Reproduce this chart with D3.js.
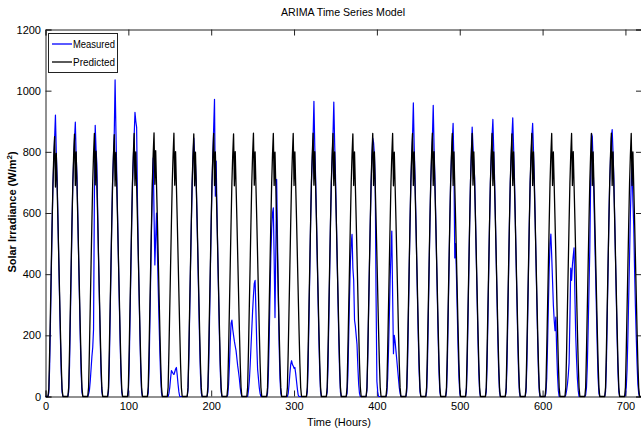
<!DOCTYPE html>
<html><head><meta charset="utf-8">
<script src="https://cdn.jsdelivr.net/npm/d3@7"></script>
<style>
html,body{margin:0;padding:0;background:#fff;}
svg{display:block;}
text{font-family:"Liberation Sans",Arial,sans-serif;fill:#000;}
</style></head>
<body>
<svg id="chart" width="641" height="428"></svg>
<script>
const title = "ARIMA Time Series Model";
const xLabel = "Time (Hours)";
const yLabel = "Solar Irradiance (W/m";
const seriesNames = ["Measured", "Predicted"];
const xTicks = [0, 100, 200, 300, 400, 500, 600, 700];
const yTicks = [0, 200, 400, 600, 800, 1000, 1200];

// Measured hourly irradiance, one row per day (hours 0..23)
const measuredDays = [
[0,0,0,0,12,95,245,405,565,695,770,845,920,800,715,585,450,318,190,80,15,0,0,0],
[0,0,0,0,15,100,250,410,570,700,775,840,897,790,720,590,452,320,188,78,14,0,0,0],
[0,0,0,0,8,20,50,90,130,160,220,650,887,810,760,600,455,322,192,82,16,0,0,0],
[0,0,0,0,15,100,255,415,575,705,785,860,1035,870,730,590,452,318,188,78,14,0,0,0],
[0,0,0,0,14,98,248,408,568,698,778,850,929,900,880,640,470,330,195,82,15,0,0,0],
[0,0,0,0,12,90,240,400,560,690,780,600,430,520,600,480,360,250,150,62,12,0,0,0],
[0,0,0,0,0,10,30,60,85,80,75,72,80,90,95,70,40,15,0,0,0,0,0,0],
[0,0,0,0,20,120,270,420,560,690,780,845,790,760,690,570,440,310,180,75,12,0,0,0],
[0,0,0,0,15,100,250,410,570,700,790,880,972,655,770,600,455,320,190,80,15,0,0,0],
[0,0,0,0,5,40,100,180,240,250,220,200,180,165,150,125,100,80,58,30,10,0,0,0],
[0,0,0,0,0,20,50,100,160,220,280,330,370,380,280,170,90,60,30,10,0,0,0,0],
[0,0,0,0,10,70,190,330,460,550,600,617,450,258,480,710,520,330,170,60,10,0,0,0],
[0,0,0,0,0,10,40,75,105,117,105,100,92,95,75,50,25,5,0,0,0,0,0,0],
[0,0,0,0,15,100,250,410,570,700,780,850,965,820,720,590,450,318,190,80,15,0,0,0],
[0,0,0,0,14,98,248,408,568,698,778,855,963,830,725,588,452,320,190,78,14,0,0,0],
[0,0,0,0,10,70,200,330,440,500,530,420,380,250,230,200,170,100,40,10,0,0,0,0],
[0,0,0,0,20,125,275,425,565,690,785,845,830,790,700,330,50,15,0,0,0,0,0,0],
[0,0,0,0,10,60,150,260,380,470,541,330,140,200,180,150,120,90,60,30,10,0,0,0],
[0,0,0,0,15,100,250,410,570,700,780,850,960,820,720,590,450,318,190,80,15,0,0,0],
[0,0,0,0,14,98,248,408,568,698,778,848,952,815,718,588,450,318,188,78,14,0,0,0],
[0,0,0,0,15,100,250,410,570,700,780,840,893,760,453,500,400,280,160,65,12,0,0,0],
[0,0,0,0,16,104,254,414,574,704,800,881,820,760,715,585,450,318,190,80,15,0,0,0],
[0,0,0,0,15,100,250,410,570,700,780,850,906,810,718,588,452,320,190,80,15,0,0,0],
[0,0,0,0,14,98,248,408,568,698,778,852,911,815,720,590,450,318,188,78,14,0,0,0],
[0,0,0,0,15,100,250,410,570,700,780,845,893,805,715,585,450,318,190,80,15,0,0,0],
[0,0,0,0,10,60,170,300,420,500,531,460,380,300,250,215,260,150,70,20,0,0,0,0],
[0,0,0,0,5,20,40,70,110,260,420,380,430,460,486,330,200,120,60,20,0,0,0,0],
[0,0,0,0,5,30,100,220,350,480,700,860,850,760,650,520,400,280,160,60,10,0,0,0],
[0,0,0,0,15,100,250,410,570,700,780,845,873,800,715,585,450,318,190,80,15,0,0,0],
[0,0,0,0,5,30,90,200,330,460,600,700,760,640,560,420,300,200,110,40,10,0,0,0]
];

// Predicted (ARIMA) hourly irradiance, one row per day (hours 0..23)
const predictedDays = [
[0,0,0,0,25,145,285,430,570,695,790,850,685,795,690,575,455,335,215,105,25,0,0,0],
[0,0,0,0,30,150,290,435,575,700,790,858,690,800,688,580,460,340,220,110,30,0,0,0],
[0,0,0,0,30,152,292,432,572,702,792,860,692,802,690,582,458,338,218,108,28,0,0,0],
[0,0,0,0,28,148,288,428,568,698,788,856,688,798,686,578,456,336,216,106,26,0,0,0],
[0,0,0,0,30,150,290,430,570,700,790,860,690,800,690,580,460,340,220,110,30,0,0,0],
[0,0,0,0,32,152,294,434,574,704,794,862,694,804,692,584,462,342,222,112,32,0,0,0],
[0,0,0,0,30,150,290,430,570,700,790,861,691,801,689,579,459,339,219,109,29,0,0,0],
[0,0,0,0,29,149,289,429,569,699,789,859,689,799,689,579,459,339,219,109,29,0,0,0],
[0,0,0,0,31,151,291,431,571,701,791,860,690,800,690,580,460,340,220,110,30,0,0,0],
[0,0,0,0,30,150,290,430,570,700,790,859,689,801,691,581,461,341,221,111,31,0,0,0],
[0,0,0,0,30,151,291,431,571,701,791,861,691,800,690,580,460,340,220,110,30,0,0,0],
[0,0,0,0,29,150,290,430,570,700,790,860,690,799,689,579,459,339,219,109,29,0,0,0],
[0,0,0,0,30,150,290,430,570,700,790,860,690,800,690,580,460,340,220,110,30,0,0,0],
[0,0,0,0,31,151,291,431,571,701,791,861,691,801,691,581,461,341,221,111,31,0,0,0],
[0,0,0,0,30,150,290,430,570,700,790,860,690,800,690,580,460,340,220,110,30,0,0,0],
[0,0,0,0,30,150,290,430,570,700,790,859,690,800,690,580,460,340,220,110,30,0,0,0],
[0,0,0,0,30,150,290,430,570,700,790,860,690,800,690,580,460,340,220,110,30,0,0,0],
[0,0,0,0,29,149,289,429,569,699,789,860,689,799,689,579,459,339,219,109,29,0,0,0],
[0,0,0,0,30,150,290,430,570,700,790,860,690,800,690,580,460,340,220,110,30,0,0,0],
[0,0,0,0,30,151,291,431,571,701,791,861,690,801,690,580,460,340,220,110,30,0,0,0],
[0,0,0,0,30,150,290,430,570,700,790,860,690,800,690,580,460,340,220,110,30,0,0,0],
[0,0,0,0,30,150,290,430,570,700,790,860,691,800,690,580,460,340,220,110,30,0,0,0],
[0,0,0,0,30,150,290,430,570,700,790,860,690,800,690,580,460,340,220,110,30,0,0,0],
[0,0,0,0,29,150,290,430,570,700,790,859,690,800,690,580,460,340,220,110,30,0,0,0],
[0,0,0,0,30,150,290,430,570,700,790,860,690,800,690,580,460,340,220,110,30,0,0,0],
[0,0,0,0,30,150,290,430,570,700,790,860,690,800,690,580,460,340,220,110,30,0,0,0],
[0,0,0,0,30,150,290,430,570,700,790,860,690,801,690,580,460,340,220,110,30,0,0,0],
[0,0,0,0,30,150,290,430,570,700,790,860,690,800,690,580,460,340,220,110,30,0,0,0],
[0,0,0,0,30,150,290,430,570,700,790,861,690,800,690,580,460,340,220,110,30,0,0,0],
[0,0,0,0,30,150,290,430,570,700,790,860,690,800,690,580,460,340,220,110,30,0,0,0]
];

const measured = measuredDays.flat();
const predicted = predictedDays.flat();

const svg = d3.select("#chart");
const L = 45.5, R = 642, T = 29.5, B = 396.5;

const x = d3.scaleLinear().domain([0, 720]).range([L, R]);
const y = d3.scaleLinear().domain([0, 1200]).range([B, T]);

// axes box and ticks
const axColor = "#222";
const gB = svg.append("g").attr("transform", `translate(0,${B})`)
  .call(d3.axisBottom(x).tickValues(xTicks).tickSize(-6).tickPadding(5.5).tickFormat(d3.format("d")));
const gT = svg.append("g").attr("transform", `translate(0,${T})`)
  .call(d3.axisTop(x).tickValues(xTicks).tickSize(-6).tickFormat(""));
const gL = svg.append("g").attr("transform", `translate(${L},0)`)
  .call(d3.axisLeft(y).tickValues(yTicks).tickSize(-6).tickPadding(4.5).tickFormat(d3.format("d")));
const gR = svg.append("g").attr("transform", `translate(${R},0)`)
  .call(d3.axisRight(y).tickValues(yTicks).tickSize(-6).tickFormat(""));
[gB, gT, gL, gR].forEach(g => {
  g.select(".domain").attr("stroke", axColor).attr("stroke-width", 1);
  g.selectAll(".tick line").attr("stroke", axColor);
  g.selectAll("text").attr("font-size", 11).attr("font-family", "Liberation Sans, Arial, sans-serif").attr("fill", "#000");
});

// lines
const line = d3.line().x((d, i) => x(i)).y(d => y(d));
const plot = svg.append("g");
plot.append("path").datum(measured).attr("d", line)
  .attr("fill", "none").attr("stroke", "#0000ff").attr("stroke-width", 1.2).attr("stroke-linejoin", "round");
plot.append("path").datum(predicted).attr("d", line)
  .attr("fill", "none").attr("stroke", "#000").attr("stroke-width", 1.3).attr("stroke-linejoin", "round");

// title and labels
svg.append("text").attr("x", 343).attr("y", 16).attr("text-anchor", "middle")
  .attr("font-size", 11).attr("textLength", 124).attr("lengthAdjust", "spacingAndGlyphs").text(title);
svg.append("text").attr("x", 339).attr("y", 426).attr("text-anchor", "middle")
  .attr("font-size", 11).text(xLabel);
const yl = svg.append("text").attr("transform", "translate(16,212) rotate(-90)")
  .attr("text-anchor", "middle").attr("font-size", 11).attr("font-weight", "bold");
yl.append("tspan").text(yLabel);
yl.append("tspan").attr("dy", -4).attr("font-size", 8).text("2");
yl.append("tspan").attr("dy", 4).text(")");

// legend
const lg = svg.append("g");
lg.append("rect").attr("x", 48.5).attr("y", 33.5).attr("width", 69).attr("height", 39)
  .attr("fill", "#fff").attr("stroke", axColor).attr("stroke-width", 1);
const legColors = ["#0000ff", "#000"];
seriesNames.forEach((n, i) => {
  const yy = 44 + i * 18;
  lg.append("line").attr("x1", 52).attr("x2", 72).attr("y1", yy).attr("y2", yy)
    .attr("stroke", legColors[i]).attr("stroke-width", 1.3);
  lg.append("text").attr("x", 73).attr("y", yy + 4).attr("font-size", 11)
    .attr("textLength", 42).attr("lengthAdjust", "spacingAndGlyphs").text(n);
});
</script>
</body></html>
